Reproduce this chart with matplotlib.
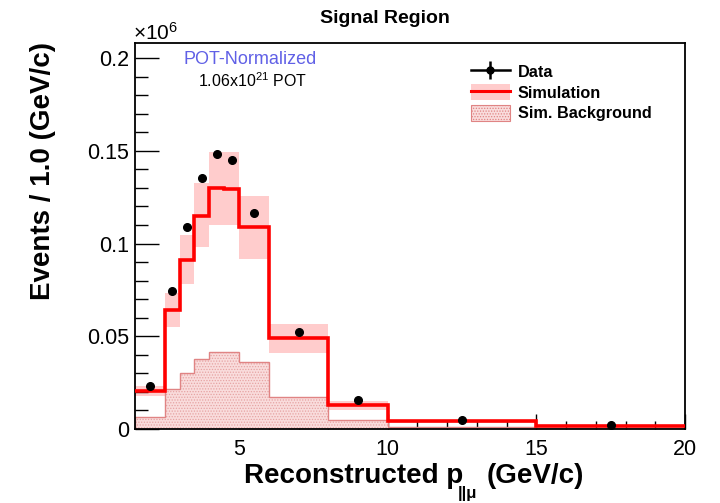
import numpy as np
import matplotlib
matplotlib.use("Agg")
import matplotlib.pyplot as plt
from matplotlib.patches import Patch, Rectangle
from matplotlib.lines import Line2D
from matplotlib.ticker import MultipleLocator, FixedLocator

plt.rcParams['font.family'] = ['Liberation Sans', 'DejaVu Sans']
plt.rcParams['mathtext.fontset'] = 'custom'
plt.rcParams['mathtext.rm'] = 'Liberation Sans'
plt.rcParams['mathtext.it'] = 'Liberation Sans:italic'
plt.rcParams['mathtext.bf'] = 'Liberation Sans:bold'
plt.rcParams['hatch.linewidth'] = 0.6

# Bin edges (GeV/c)
bin_edges = [1.5, 2.5, 3.0, 3.5, 4.0, 4.5, 5.0, 6.0, 8.0, 10.0, 15.0, 20.0]
# Values in units of 1e6 events / 1.0 GeV/c
sim_values = [0.0206, 0.0640, 0.0911, 0.1150, 0.1297, 0.1294, 0.1087, 0.0489, 0.0129, 0.0041, 0.0018]
sim_err_low = [0.0178, 0.0551, 0.0782, 0.0979, 0.1100, 0.1098, 0.0916, 0.0408, 0.0102, 0.0035, 0.0014]
sim_err_high = [0.0232, 0.0731, 0.1046, 0.1324, 0.1495, 0.1493, 0.1258, 0.0566, 0.0153, 0.0047, 0.0022]
bkg_values = [0.0066, 0.0214, 0.0300, 0.0376, 0.0413, 0.0413, 0.0360, 0.0172, 0.0048, 0.0012, 0.0004]
data_x = [2.0, 2.75, 3.25, 3.75, 4.25, 4.75, 5.5, 7.0, 9.0, 12.5, 17.5]
data_y = [0.0233, 0.0746, 0.1089, 0.1351, 0.1482, 0.1450, 0.1164, 0.0521, 0.0156, 0.0049, 0.0019]

scale = 1e6
edges = np.array(bin_edges)
sim = np.array(sim_values) * scale
lo = np.array(sim_err_low) * scale
hi = np.array(sim_err_high) * scale
bkg = np.array(bkg_values) * scale

fig = plt.figure(figsize=(7.2, 5.03), dpi=100)
ax = fig.add_axes([0.1875, 0.1471, 0.7639, 0.7674])

# error band
for i in range(len(sim)):
    ax.add_patch(Rectangle((edges[i], lo[i]), edges[i+1]-edges[i], hi[i]-lo[i],
                           facecolor='#ffcccc', edgecolor='none', zorder=1))

# background hatched
ax.stairs(bkg, edges, fill=True, facecolor='#f9dcdc', edgecolor='#e6a3a3',
          hatch='......', linewidth=0, zorder=2)
ax.stairs(bkg, edges, fill=False, edgecolor='#e08484', linewidth=1.0, zorder=2.5)

# simulation line
ax.stairs(sim, edges, color='#ff0000', linewidth=2.6, zorder=3, baseline=None)

# data
ax.errorbar(data_x, np.array(data_y) * scale, fmt='o', color='black', markersize=5.5,
            zorder=4)

ax.set_xlim(1.5, 20)
ax.set_ylim(0, 0.2081e6)

ax.xaxis.set_major_locator(FixedLocator([5, 10, 15, 20]))
ax.xaxis.set_minor_locator(MultipleLocator(1))
ax.yaxis.set_major_locator(FixedLocator([0, 0.05e6, 0.1e6, 0.15e6, 0.2e6]))
ax.yaxis.set_minor_locator(MultipleLocator(0.01e6))
ax.set_yticklabels(['0', '0.05', '0.1', '0.15', '0.2'])
ax.set_xticklabels(['5', '10', '15', '20'])

ax.tick_params(axis='both', which='both', direction='in', top=False, right=False,
               labelsize=15.5, width=1.0, color='black')
ax.tick_params(axis='y', which='major', length=17, pad=4)
ax.tick_params(axis='y', which='minor', length=9)
ax.tick_params(axis='x', which='major', length=11, pad=7)
ax.tick_params(axis='x', which='minor', length=6)
for s in ax.spines.values():
    s.set_linewidth(1.3)

fig.text(43/720, 1 - 42/503, 'Events / 1.0 (GeV/c)', rotation=90, fontsize=20,
         fontweight='bold', ha='center', va='top')
# x-axis title in three pieces (ROOT-style low subscript)
fig.text(463/720, 1 - 483/503, 'Reconstructed p', fontsize=20,
         fontweight='bold', ha='right', va='baseline')
fig.text(458/720, 1 - 498/503, '||\u03bc', fontsize=12,
         fontweight='bold', ha='left', va='baseline')
fig.text(487/720, 1 - 483/503, '(GeV/c)', fontsize=20,
         fontweight='bold', ha='left', va='baseline')

fig.text(0.535, 0.963, 'Signal Region', fontsize=14, fontweight='bold',
         ha='center', va='center')
fig.text(0.185, 0.935, r'$\times$10$^{6}$', fontsize=15, ha='left', va='center')

ax.text(0.209, 0.956, 'POT-Normalized', transform=ax.transAxes, color='#6060e6',
        fontsize=13, ha='center', va='center')
ax.text(0.213, 0.902, r'1.06x10$^{21}$ POT', transform=ax.transAxes, color='black',
        fontsize=11.5, ha='center', va='center')

handles = [
    (Line2D([0], [0], color='black', linewidth=1.8),
     Line2D([0], [0], color='black', marker='|', markersize=13, markeredgewidth=1.8, linestyle='none'),
     Line2D([0], [0], color='black', marker='o', markersize=5, linestyle='none')),
    (Patch(facecolor='#ffcccc', edgecolor='none'), Line2D([0], [0], color='red', linewidth=2.2)),
    Patch(facecolor='#f9dcdc', edgecolor='#e08484', hatch='......', linewidth=0.8),
]
labels = ['Data', 'Simulation', 'Sim. Background']
leg = ax.legend(handles, labels, loc='upper left', bbox_to_anchor=(0.585, 0.985),
                frameon=False, prop={'weight': 'bold', 'size': 11.7},
                handlelength=2.35, handleheight=1.1, labelspacing=0.28, handletextpad=0.5)

fig.savefig('out.png', dpi=100)
